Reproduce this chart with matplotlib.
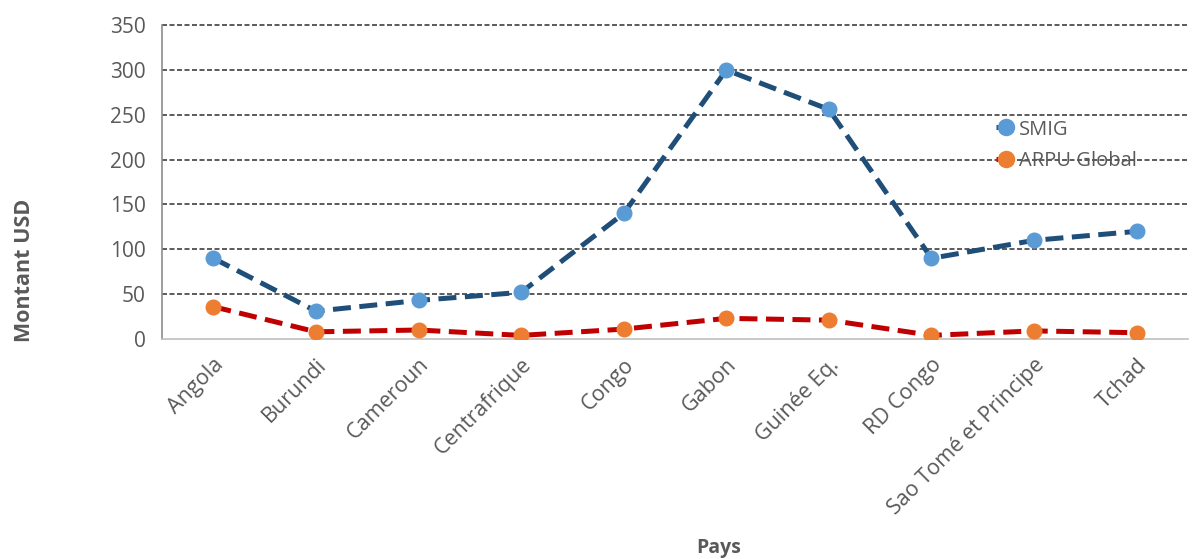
import matplotlib
matplotlib.use("Agg")
import matplotlib.pyplot as plt

pays = ["Angola", "Burundi", "Cameroun", "Centrafrique", "Congo", "Gabon",
        "Guinée Eq.", "RD Congo", "Sao Tomé et Principe", "Tchad"]
smig = [90, 31, 43, 52, 140, 300, 256, 90, 110, 120]
arpu = [36, 8, 10, 4, 11, 23, 21, 4, 9, 7]
yticks = [0, 50, 100, 150, 200, 250, 300, 350]

plt.rcParams['font.family'] = ['Open Sans', 'DejaVu Sans']

fig = plt.figure(figsize=(11.92, 5.59), dpi=100)
ax = fig.add_axes([0.136, 0.3936, 0.8606, 0.5614])

x = list(range(len(pays)))
ax.plot(x, smig, color='#1F4E79', lw=3.6, ls=(0, (3.6, 1.7)), marker='o',
        markersize=10.5, markerfacecolor='#5B9BD5', markeredgecolor='#5B9BD5',
        label='SMIG', zorder=3)
ax.plot(x, arpu, color='#C00000', lw=3.6, ls=(0, (3.6, 1.7)), marker='o',
        markersize=10.5, markerfacecolor='#ED7D31', markeredgecolor='#ED7D31',
        label='ARPU Global', zorder=3)

ax.set_xlim(-0.5, len(pays) - 0.5)
ax.set_ylim(0, 350)
ax.set_yticks(yticks)
ax.set_xticks(x)
ax.set_xticklabels(pays, rotation=45, ha='right', rotation_mode='anchor')
ax.tick_params(axis='y', length=0, labelsize=15, labelcolor='#595959', pad=12)
ax.tick_params(axis='x', length=0, labelsize=15.5, labelcolor='#595959', pad=11)

for v in yticks[1:]:
    ax.axhline(v, color='#404040', lw=1.2, ls=(0, (3, 1.5)), zorder=1, clip_on=False)

for s in ['top', 'right']:
    ax.spines[s].set_visible(False)
ax.spines['left'].set_color('#8c8c8c')
ax.spines['bottom'].set_color('#bfbfbf')
ax.spines['left'].set_linewidth(1.2)
ax.spines['bottom'].set_linewidth(1.2)

ax.set_ylabel('Montant USD', fontsize=15.5, fontweight='bold', color='#595959')
ax.yaxis.set_label_coords(-0.124, 0.22)
ax.set_xlabel('Pays', fontsize=14, fontweight='bold', color='#595959')
ax.xaxis.set_label_coords(0.543, -0.635)

leg = ax.legend(loc='upper left', bbox_to_anchor=(0.805, 0.725), frameon=False,
                fontsize=14.5, handlelength=1.0, handletextpad=0.15,
                labelspacing=0.55, borderaxespad=0, markerscale=1.1)
for t in leg.get_texts():
    t.set_color('#595959')

fig.savefig('out.png', dpi=100)
